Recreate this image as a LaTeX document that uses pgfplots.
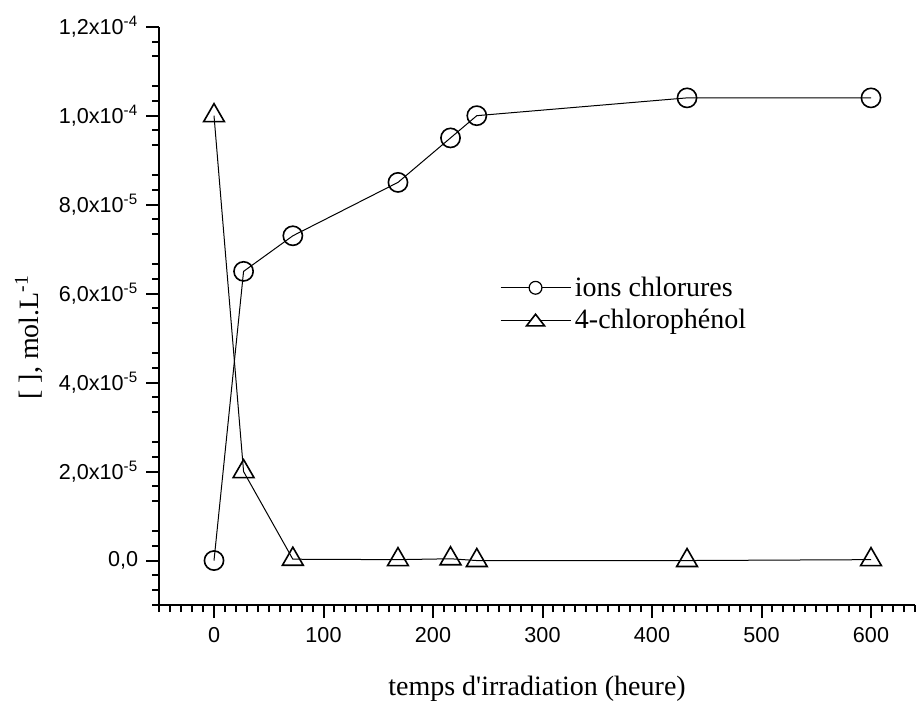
\documentclass[border=0pt]{standalone}
\usepackage{pgfplots}
\pgfplotsset{compat=1.18}
\usepackage{fontspec}
\setmainfont{Liberation Serif}
\setsansfont{Liberation Sans}
\begin{document}
\begin{tikzpicture}
\begin{axis}[
  name=ax, at={(0,0)}, anchor=south west,
  scale only axis, width=377.75pt, height=289.15pt,
  xmin=-50, xmax=640, ymin=-1e-5, ymax=1.2e-4,
  axis lines=left,
  axis line style={-, line width=1pt},
  tick align=outside,
  every tick/.style={black, line width=1pt},
  major tick length=6.5pt, minor tick length=3.5pt,
  xtick={0,100,200,300,400,500,600},
  minor xtick={-50,-40,...,640},
  ytick={0,2e-5,4e-5,6e-5,8e-5,1e-4,1.2e-4},
  yticklabels={{0,0},{2,0x10\textsuperscript{-5}},{4,0x10\textsuperscript{-5}},{6,0x10\textsuperscript{-5}},{8,0x10\textsuperscript{-5}},{1,0x10\textsuperscript{-4}},{1,2x10\textsuperscript{-4}}},
  minor ytick={-1e-5,-0.6666667e-5,-0.3333333e-5,0.3333333e-5,0.6666667e-5,1.3333333e-5,1.6666667e-5,2.3333333e-5,2.6666667e-5,3.3333333e-5,3.6666667e-5,4.3333333e-5,4.6666667e-5,5.3333333e-5,5.6666667e-5,6.3333333e-5,6.6666667e-5,7.3333333e-5,7.6666667e-5,8.3333333e-5,8.6666667e-5,9.3333333e-5,9.6666667e-5,10.3333333e-5,10.6666667e-5,11.3333333e-5,11.6666667e-5},
  scaled y ticks=false, scaled x ticks=false,
  /pgf/number format/assume math mode=true,
  xticklabel style={font=\fontsize{10.8}{12}\sffamily, yshift=-1pt},
  yticklabel style={font=\fontsize{10.8}{12}\sffamily, xshift=-0.5pt},
  every axis x label/.style={at={(axis description cs:0.5,-0.1556)}, anchor=base},
  every axis y label/.style={at={(axis description cs:-0.160,0.463)}, rotate=90, anchor=base},
  xlabel={temps d\textquotesingle irradiation (heure)},
  ylabel={[ ], mol.L\textsuperscript{-1}},
  label style={font=\fontsize{14}{16}\selectfont},
  legend style={at={(axis description cs:0.448,0.579)}, anchor=north west, draw=none, fill=none,
    font=\fontsize{14}{16}\selectfont, row sep=1pt, inner sep=1pt,
    /tikz/every even column/.style={column sep=1.5pt}},
  legend cell align=left,
]
\addplot[black, line width=0.5pt, mark=o, mark size=4.8pt, mark options={solid, fill=white, line width=0.8pt},
  legend image code/.code={\draw[black, line width=0.4pt] (0pt,0pt) -- (35pt,0pt);
    \draw[black, fill=white, line width=0.6pt] (17.5pt,0pt) circle (3.2pt);}]
coordinates {(0,0) (27,6.5e-5) (72,7.3e-5) (168,8.5e-5) (216,9.5e-5) (240,1.0e-4) (432,1.04e-4) (600,1.04e-4)};
\addlegendentry{ions chlorures}
\addplot[black, line width=0.5pt, mark=triangle, mark size=6pt, mark options={solid, fill=white, line width=0.8pt},
  legend image code/.code={\draw[black, line width=0.4pt] (0pt,0pt) -- (35pt,0pt);
    \draw[black, fill=white, line width=0.8pt] (13pt,-2.8pt) -- (22pt,-2.8pt) -- (17.5pt,3pt) -- cycle;}]
coordinates {(0,1.0e-4) (27,2.0e-5) (72,3e-7) (168,2e-7) (216,4e-7) (240,0) (432,0) (600,2e-7)};
\addlegendentry{4-chloroph\'enol}
\end{axis}
\pgfresetboundingbox
\path ([xshift=-79.625pt,yshift=-47.5pt]ax.south west) rectangle ([xshift=0.6pt,yshift=13.35pt]ax.north east);
\end{tikzpicture}
\end{document}
